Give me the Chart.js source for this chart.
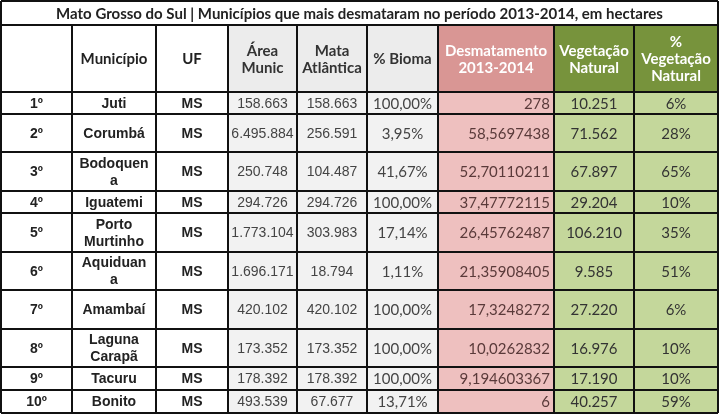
<!DOCTYPE html>
<html><head><meta charset="utf-8">
<script src="https://cdn.jsdelivr.net/npm/chart.js@4/dist/chart.umd.min.js"></script>
<style>html,body{margin:0;padding:0;background:#fff}</style>
</head><body>
<canvas id="c" width="719" height="415"></canvas>
<script>
const title = "Mato Grosso do Sul | Municípios que mais desmataram no período 2013-2014, em hectares";
const headers = ["", "Município", "UF", "Área\nMunic", "Mata\nAtlântica", "% Bioma", "Desmatamento\n2013-2014", "Vegetação\nNatural", "%\nVegetação\nNatural"];
const ranks = ["1º","2º","3º","4º","5º","6º","7º","8º","9º","10º"];
const municipios = ["Juti","Corumbá","Bodoquen\na","Iguatemi","Porto\nMurtinho","Aquiduan\na","Amambaí","Laguna\nCarapã","Tacuru","Bonito"];
const uf = ["MS","MS","MS","MS","MS","MS","MS","MS","MS","MS"];
const areaMunic = ["158.663","6.495.884","250.748","294.726","1.773.104","1.696.171","420.102","173.352","178.392","493.539"];
const mataAtlantica = ["158.663","256.591","104.487","294.726","303.983","18.794","420.102","173.352","178.392","67.677"];
const bioma = ["100,00%","3,95%","41,67%","100,00%","17,14%","1,11%","100,00%","100,00%","100,00%","13,71%"];
const desmatamento = ["278","58,5697438","52,70110211","37,47772115","26,45762487","21,35908405","17,3248272","10,0262832","9,194603367","6"];
const vegetacao = ["10.251","71.562","67.897","29.204","106.210","9.585","27.220","16.976","17.190","40.257"];
const pctVeg = ["6%","28%","65%","10%","35%","51%","6%","10%","10%","59%"];

const colB = [0,71,155,227,296,366,437,553,633,717];
const rowB = [0,24,91,113,151,190,212,251,289,328,366,389,412];
const colStyle = [
 {hb:"#fff",bb:"#fff",hc:"#222",bc:"#222",bf:"bold 14px 'Liberation Sans'",al:"center"},
 {hb:"#fff",bb:"#fff",hc:"#222",bc:"#222",bf:"bold 14px 'Liberation Sans'",al:"center"},
 {hb:"#fff",bb:"#fff",hc:"#222",bc:"#222",bf:"bold 14px 'Liberation Sans'",al:"center"},
 {hb:"#ececec",bb:"#f2f2f2",hc:"#333",bc:"#444",bf:"14px 'Liberation Sans'",al:"center"},
 {hb:"#ececec",bb:"#f2f2f2",hc:"#333",bc:"#444",bf:"14px 'Liberation Sans'",al:"center"},
 {hb:"#ececec",bb:"#f2f2f2",hc:"#333",bc:"#444",bf:"15px 'Lato'",al:"center"},
 {hb:"#d99694",bb:"#eec0bf",hc:"#fff",bc:"#5a3a3a",bf:"15px 'Lato'",al:"right"},
 {hb:"#77933c",bb:"#c4d79b",hc:"#fff",bc:"#333",bf:"15px 'Lato'",al:"center"},
 {hb:"#77933c",bb:"#c4d79b",hc:"#fff",bc:"#333",bf:"15px 'Lato'",al:"center"}
];
const cols = [ranks, municipios, uf, areaMunic, mataAtlantica, bioma, desmatamento, vegetacao, pctVeg];

const tablePlugin = {
  id:'table',
  afterDraw(chart){
    const ctx = chart.ctx, X = chart.scales.x, Y = chart.scales.y;
    const px = v => X.getPixelForValue(v), py = v => Y.getPixelForValue(v);
    ctx.save();
    const cell = (x0,x1,y0,y1,bg,txt,font,color,al)=>{
      ctx.fillStyle=bg; ctx.fillRect(px(x0),py(y0),px(x1)-px(x0),py(y1)-py(y0));
      ctx.font=font; ctx.fillStyle=color; ctx.textBaseline='middle';
      const lines = txt.split("\n"), lh = 17;
      const cy = (py(y0)+py(y1))/2 - (lines.length-1)*lh/2 + 1;
      lines.forEach((l,i)=>{
        let x;
        if(al==='right'){ctx.textAlign='right'; x=px(x1)-4;} else {ctx.textAlign='center'; x=(px(x0)+px(x1))/2;}
        ctx.fillText(l,x,cy+i*lh);
      });
    };
    cell(colB[0],colB[9],rowB[0],rowB[1],"#fff",title,"bold 15px 'Lato'","#222","center");
    for(let c=0;c<9;c++){
      const s=colStyle[c];
      cell(colB[c],colB[c+1],rowB[1],rowB[2],s.hb,headers[c],"bold 15px 'Lato'",s.hc,"center");
      for(let r=0;r<10;r++) cell(colB[c],colB[c+1],rowB[r+2],rowB[r+3],s.bb,cols[c][r],s.bf,s.bc,s.al);
    }
    ctx.strokeStyle="#111"; ctx.lineWidth=2;
    ctx.beginPath();
    rowB.forEach(v=>{ctx.moveTo(px(colB[0]),py(v));ctx.lineTo(px(colB[9]),py(v));});
    colB.forEach((v,i)=>{ctx.moveTo(px(v),py(i===0||i===9?rowB[0]:rowB[1]));ctx.lineTo(px(v),py(rowB[12]));});
    ctx.stroke();
    ctx.restore();
  }
};

new Chart(document.getElementById('c'),{
  type:'scatter',
  data:{datasets:[{data:[]}]},
  options:{
    responsive:false, animation:false, devicePixelRatio:1,
    layout:{padding:{left:1,top:1,right:1,bottom:2}},
    plugins:{legend:{display:false},tooltip:{enabled:false}},
    scales:{
      x:{type:'linear',min:0,max:717,display:false},
      y:{type:'linear',min:0,max:412,reverse:true,display:false}
    }
  },
  plugins:[tablePlugin]
});
</script>
</body></html>
